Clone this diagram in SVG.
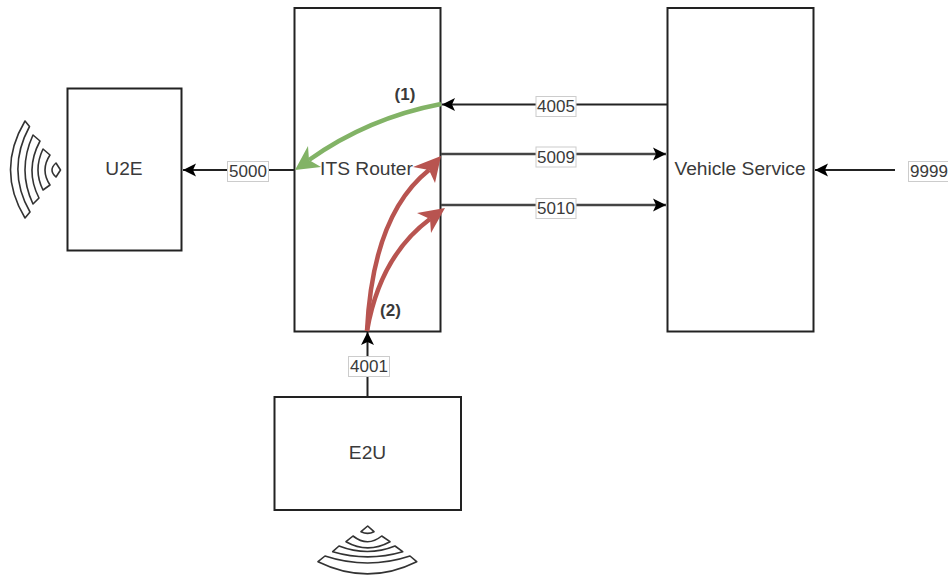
<svg xmlns="http://www.w3.org/2000/svg" width="948" height="576" viewBox="0 0 948 576">
<style>
text{font-family:"Liberation Sans",Arial,sans-serif;fill:#3a3a3a}
.box{fill:#fff;stroke:#222;stroke-width:2}
.name{font-size:19.2px;text-anchor:middle}
.lab{font-size:17px;text-anchor:middle}
.lbg{fill:#fff;stroke:#ccc;stroke-width:1}
.ln{fill:none;stroke:#222;stroke-width:2}
.ln2{fill:none;stroke:#444;stroke-width:2.4}
.wifi{fill:#fff;stroke:#333;stroke-width:1.6;stroke-linejoin:round}
.note{font-size:17px;font-weight:bold;text-anchor:middle}
.g{fill:none;stroke:#82b366;stroke-width:4.5}
.r{fill:none;stroke:#b85450;stroke-width:4.5}
</style>
<defs>
<marker id="ah" markerUnits="userSpaceOnUse" markerWidth="15" markerHeight="15" refX="14" refY="7.5" orient="auto">
<path d="M1 1 L14 7.500 L1 14 L4 7.500 Z" fill="#000"/>
</marker>
</defs>
<rect width="948" height="576" fill="#fff"/>
<g id="u2e"><rect class="box" x="67.5" y="88.5" width="114" height="162"/><text class="name" x="124" y="175">U2E</text></g>
<g id="its-router"><rect class="box" x="294.5" y="8" width="146" height="323.5"/><text class="name" x="366.5" y="175">ITS Router</text></g>
<g id="vehicle-service"><rect class="box" x="667.5" y="8" width="146" height="323.5"/><text class="name" x="740" y="175">Vehicle Service</text></g>
<g id="e2u"><rect class="box" x="274.5" y="397" width="186.5" height="113"/><text class="name" x="367.5" y="459">E2U</text></g>
<g id="antenna-left">
<path class="wifi" d="M25 121 L29.500 126.500 Q6 170 30 212 L25 218 Q-4 170 25 121 Z"/>
<path class="wifi" d="M33 135 L40 141 Q24.500 170 39 198 L33 204 Q17 170 33 135 Z"/>
<path class="wifi" d="M43 149 L50 155 Q40 170 50 185 L43 190 Q33 170 43 149 Z"/>
<path class="wifi" d="M56 163 L60.500 170 L56 177 Q48 170 56 163 Z"/>
</g>
<g id="antenna-bottom">
<path class="wifi" d="M367.700 526 L374 531.700 Q367.700 535 361 531.700 Z"/>
<path class="wifi" d="M346 541.700 L353 536 Q367.700 547.400 381.700 536 L390 541.700 Q367.700 554 346 541.700 Z"/>
<path class="wifi" d="M332.700 551.700 L339 546 Q367.700 557 395 546 L402.700 551.700 Q367.700 562 332.700 551.700 Z"/>
<path class="wifi" d="M318 561.700 L325 556 Q367.700 570 410 556 L416.700 561.700 Q367.700 586 318 561.700 Z"/>
</g>
<g id="connectors">
<path class="ln" d="M294 170 H183" marker-end="url(#ah)"/>
<path class="ln" d="M667 104.500 H442" marker-end="url(#ah)"/>
<path class="ln2" d="M441 154 H666" marker-end="url(#ah)"/>
<path class="ln2" d="M441 205 H666" marker-end="url(#ah)"/>
<path class="ln" d="M895 170 H815" marker-end="url(#ah)"/>
<path class="ln" d="M367.500 397 V332" marker-end="url(#ah)"/>
<path class="g" d="M441 104 Q368 118 309 160"/>
<polygon points="295,170 308,146 309,160 321,167" fill="#82b366"/>
<path class="r" d="M367 331 C370 270 385 205 429 170"/>
<polygon points="441,156 413,167 429,170 435,183" fill="#b85450"/>
<path class="r" d="M367 331 C375 285 395 245 430 219"/>
<polygon points="445,208 417,213 430,219 431,233" fill="#b85450"/>
</g>
<g id="labels">
<rect class="lbg" x="227.500" y="161.500" width="41" height="20"/><text class="lab" x="248" y="177">5000</text>
<rect class="lbg" x="348.500" y="356.500" width="41" height="20"/><text class="lab" x="369" y="372">4001</text>
<rect class="lbg" x="536" y="96.500" width="40" height="20"/><text class="lab" x="556" y="112">4005</text>
<rect class="lbg" x="536" y="147" width="40" height="20"/><text class="lab" x="556" y="162.500">5009</text>
<rect class="lbg" x="536" y="198.500" width="40" height="20"/><text class="lab" x="556" y="214">5010</text>
<rect class="lbg" x="908.500" y="161.500" width="41" height="20"/><text class="lab" x="929" y="177">9999</text>
<text class="note" x="405" y="100">(1)</text>
<text class="note" x="390.500" y="316">(2)</text>
</g>
</svg>
